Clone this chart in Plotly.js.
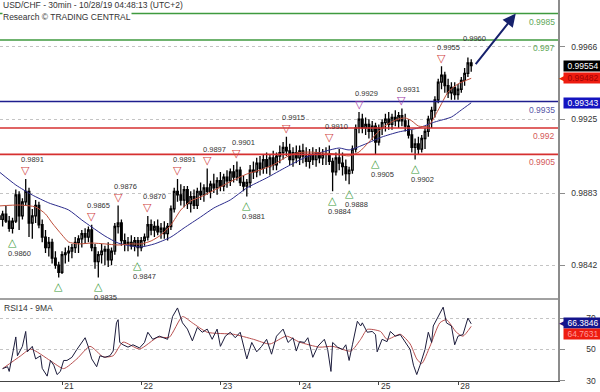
<!DOCTYPE html>
<html><head><meta charset="utf-8">
<script src="https://cdn.plot.ly/plotly-3.0.1.min.js"></script>
<style>html,body{margin:0;padding:0;background:#fff}#chart{width:600px;height:392px}</style>
</head><body><div id="chart"></div>
<script>
// ---------- text ----------
const chartTitle = 'USD/CHF - 30min - 10/28/19 04:48:13 (UTC+2)';
const chartSource = 'Research © TRADING CENTRAL';
const rsiTitle = 'RSI14 - 9MA';

// ---------- time axis (trading hours from Mon Oct 21 00:00, weekend removed) ----------
const dayTickHours = [0, 24, 48, 72, 96, 120];
const dayTickLabels = ['21', '22', '23', '24', '25', '28'];
const firstBarHour = -19;

// ---------- hourly OHLC ----------
const openP = [
 0.9870,0.9868,0.9871,0.9867,0.9863,0.9867,0.9882,0.9870,0.9878,0.9884,0.9866,0.9870,
 0.9876,0.9865,0.9858,0.9852,0.9855,0.9846,0.9842,0.9838,0.9848,0.9849,0.9850,0.9852,
 0.9855,0.9857,0.9860,0.9858,0.9862,0.9852,0.9844,0.9848,0.9850,0.9851,0.9845,0.9850,
 0.9864,0.9866,0.9856,0.9854,0.9855,0.9853,0.9856,0.9852,0.9856,0.9858,0.9865,0.9862,
 0.9864,0.9861,0.9863,0.9860,0.9864,0.9874,0.9884,0.9882,0.9879,0.9885,0.9877,0.9881,
 0.9876,0.9884,0.9882,0.9886,0.9884,0.9888,0.9886,0.9890,0.9887,0.9892,0.9890,0.9895,
 0.9892,0.9896,0.9889,0.9887,0.9889,0.9896,0.9895,0.9900,0.9897,0.9902,0.9898,0.9903,
 0.9899,0.9904,0.9906,0.9909,0.9907,0.9902,0.9906,0.9903,0.9907,0.9904,0.9901,0.9905,
 0.9902,0.9906,0.9903,0.9905,0.9905,0.9901,0.9895,0.9903,0.9900,0.9898,0.9894,0.9896,
 0.9908,0.9920,0.9925,0.9920,0.9922,0.9918,0.9921,0.9912,0.9920,0.9923,0.9925,0.9922,
 0.9926,0.9924,0.9927,0.9924,0.9921,0.9916,0.9909,0.9911,0.9908,0.9914,0.9918,0.9925,
 0.9930,0.9936,0.9946,0.9950,0.9944,0.9940,0.9943,0.9939,0.9942,0.9947,0.9951,0.9957];
const highP = [
 0.9874,0.9873,0.9876,0.9870,0.9869,0.9885,0.9884,0.9880,0.9891,0.9886,0.9874,0.9879,
 0.9878,0.9868,0.9862,0.9858,0.9857,0.9850,0.9844,0.9850,0.9852,0.9853,0.9854,0.9858,
 0.9859,0.9862,0.9863,0.9864,0.9865,0.9854,0.9850,0.9854,0.9853,0.9855,0.9852,0.9866,
 0.9876,0.9868,0.9860,0.9858,0.9859,0.9858,0.9858,0.9858,0.9860,0.9870,0.9868,0.9867,
 0.9868,0.9866,0.9867,0.9866,0.9876,0.9886,0.9891,0.9888,0.9887,0.9887,0.9884,0.9885,
 0.9886,0.9889,0.9888,0.9897,0.9890,0.9894,0.9892,0.9895,0.9894,0.9896,0.9897,0.9899,
 0.9901,0.9898,0.9893,0.9891,0.9899,0.9901,0.9903,0.9904,0.9905,0.9906,0.9905,0.9907,
 0.9906,0.9910,0.9912,0.9915,0.9911,0.9909,0.9910,0.9910,0.9911,0.9909,0.9908,0.9909,
 0.9908,0.9909,0.9908,0.9909,0.9910,0.9903,0.9906,0.9908,0.9906,0.9902,0.9898,0.9910,
 0.9922,0.9929,0.9928,0.9926,0.9925,0.9924,0.9923,0.9922,0.9925,0.9928,0.9929,0.9928,
 0.9930,0.9929,0.9931,0.9928,0.9925,0.9919,0.9914,0.9915,0.9916,0.9920,0.9927,0.9932,
 0.9938,0.9948,0.9955,0.9952,0.9948,0.9946,0.9946,0.9945,0.9949,0.9954,0.9960,0.9959];
const lowP = [
 0.9865,0.9864,0.9866,0.9861,0.9860,0.9866,0.9862,0.9868,0.9876,0.9858,0.9857,0.9866,
 0.9863,0.9855,0.9849,0.9847,0.9843,0.9840,0.9835,0.9837,0.9843,0.9844,0.9846,0.9849,
 0.9849,0.9852,0.9854,0.9855,0.9850,0.9840,0.9835,0.9843,0.9842,0.9841,0.9842,0.9848,
 0.9860,0.9853,0.9850,0.9850,0.9851,0.9850,0.9847,0.9850,0.9853,0.9856,0.9859,0.9858,
 0.9859,0.9857,0.9857,0.9856,0.9862,0.9872,0.9878,0.9876,0.9875,0.9874,0.9872,0.9874,
 0.9874,0.9879,0.9878,0.9882,0.9880,0.9883,0.9882,0.9884,0.9884,0.9886,0.9887,0.9889,
 0.9890,0.9887,0.9884,0.9881,0.9886,0.9891,0.9892,0.9893,0.9894,0.9894,0.9893,0.9896,
 0.9896,0.9900,0.9902,0.9904,0.9899,0.9898,0.9900,0.9899,0.9900,0.9898,0.9897,0.9899,
 0.9898,0.9900,0.9899,0.9899,0.9899,0.9884,0.9893,0.9896,0.9893,0.9890,0.9888,0.9894,
 0.9906,0.9917,0.9917,0.9916,0.9914,0.9913,0.9905,0.9910,0.9916,0.9918,0.9919,0.9919,
 0.9921,0.9920,0.9921,0.9918,0.9914,0.9906,0.9902,0.9905,0.9906,0.9908,0.9915,0.9920,
 0.9926,0.9934,0.9942,0.9940,0.9937,0.9936,0.9936,0.9936,0.9940,0.9944,0.9949,0.9952];
const closeP = [
 0.9868,0.9871,0.9867,0.9863,0.9867,0.9882,0.9870,0.9878,0.9884,0.9866,0.9870,0.9876,
 0.9865,0.9858,0.9852,0.9855,0.9846,0.9842,0.9838,0.9848,0.9849,0.9850,0.9852,0.9855,
 0.9857,0.9860,0.9858,0.9862,0.9852,0.9844,0.9848,0.9850,0.9851,0.9845,0.9850,0.9864,
 0.9866,0.9856,0.9854,0.9855,0.9853,0.9856,0.9852,0.9856,0.9858,0.9865,0.9862,0.9864,
 0.9861,0.9863,0.9860,0.9864,0.9874,0.9884,0.9882,0.9879,0.9885,0.9877,0.9881,0.9876,
 0.9884,0.9882,0.9886,0.9884,0.9888,0.9886,0.9890,0.9887,0.9892,0.9890,0.9895,0.9892,
 0.9896,0.9889,0.9887,0.9889,0.9896,0.9895,0.9900,0.9897,0.9902,0.9898,0.9903,0.9899,
 0.9904,0.9906,0.9909,0.9907,0.9902,0.9906,0.9903,0.9907,0.9904,0.9901,0.9905,0.9902,
 0.9906,0.9903,0.9905,0.9905,0.9901,0.9895,0.9903,0.9900,0.9898,0.9894,0.9896,0.9908,
 0.9920,0.9925,0.9920,0.9922,0.9918,0.9921,0.9912,0.9920,0.9923,0.9925,0.9922,0.9926,
 0.9924,0.9927,0.9924,0.9921,0.9916,0.9909,0.9911,0.9908,0.9914,0.9918,0.9925,0.9930,
 0.9936,0.9946,0.9950,0.9944,0.9940,0.9943,0.9939,0.9942,0.9947,0.9951,0.9957,0.99554];

// ---------- moving averages ----------
const fastMAHours = [-19,-13,-8,-5,-3,0,2,5,9,13,17,21,24,27,30,33,36,39,42,45,48,52,56,60,64,68,71,75,79,83,87,90,93,97,101,104,106,108,111,114,117,120,124];
const fastMA = [0.98757,0.98762,0.98751,0.98711,0.98660,0.98592,0.98552,0.98541,0.98546,0.98541,0.98535,0.98541,0.98541,0.98558,0.98592,0.98649,0.98734,0.98785,0.98808,0.98836,0.98865,0.98904,0.98938,0.98961,0.98990,0.99035,0.99058,0.99063,0.99058,0.99052,0.99041,0.99063,0.99120,0.99200,0.99245,0.99257,0.99240,0.99211,0.99211,0.99302,0.99404,0.99450,0.99482];
const slowMAHours = [-19,-14,-9,-4,2,6,9,13,17,21,24,28,33,37,42,46,51,56,62,68,74,80,84,87,92,97,102,108,113,118,121,124];
const slowMA = [0.98950,0.98876,0.98819,0.98774,0.98734,0.98677,0.98637,0.98586,0.98546,0.98529,0.98524,0.98541,0.98580,0.98632,0.98694,0.98745,0.98791,0.98859,0.98916,0.98978,0.99035,0.99069,0.99086,0.99075,0.99109,0.99149,0.99177,0.99200,0.99234,0.99262,0.99302,0.99343];

// ---------- RSI14 and its 9MA ----------
const rsiHours = [-18,-16.5,-16,-14,-13.5,-12,-11,-10.5,-9,-8,-6.5,-6,-4.5,-3.5,-2.5,-1.5,-0.5,0.5,1.5,3,4.5,6,7,8,9,10.5,11.5,13,14.5,15.5,16.5,17,17.5,18.5,20,21.5,23.5,25,26,27.5,29.5,32,32.5,33.5,35,36,36.5,38,39.5,41,42.5,44,45.5,47,48,49.5,51,52.5,54,56,57.5,59,60.5,62,63.5,65,67,68.5,70,71,72,73.5,74.5,76,77.5,79.5,80.5,81.5,82,83.5,85,86,87,88,89.5,90.5,91,92.5,94,95,95.5,97,98.5,99.5,101,102.5,104,105.5,106.5,107.5,108.5,110,111,112,112.5,113.5,114.5,115.5,116.5,118,119,120,121.5,123,124];
const rsiValues = [37.8,39,36,58,46,52,61.5,48.5,52,44,46,38,33,43,40,34,36,43,43,45,50,54.5,57.5,51.5,44,39,46,45,46,49,67,69,54.5,53,51.5,53,51,54.5,61,56.5,58.5,56.5,61.5,71,76.5,71,67,63,55.5,64,61,63,56.5,63,52,58.5,61,57.5,61,44,54.5,48.5,52,56.5,47,58.5,63,54.5,57.5,49,55,54.5,57.5,45,52,56.5,50,36,54.5,51.5,50,53,43,53,68,65,67,61,61.5,59.5,48.5,56.5,55,61.5,58.5,59.5,55,50,40,34,40,50,61,54.5,65,69,73,77,67,65,53,58.5,59.5,70,66.3846];
const rsiMAHours = [-18,-12.5,-9.5,-3.5,0.5,4.5,8.5,12.5,15.5,18.5,23.5,29,32.5,36.5,39.5,44,52,58,63,68,72,78,82,87.5,90.5,92.5,96.5,98.5,102.5,105.5,107.5,109,111.5,114.5,116.5,119.5,121.5,124];
const rsiMA = [37.8,46,50.3,42.8,37.8,44,52,45.3,46,54.7,50.3,57.8,57.8,71,67,61,59.7,56.5,53.5,58.5,54.7,51.5,52,49,56.5,62.8,61.5,56.5,59.7,53.5,44,41,52,67,69,61,58.5,64.7631];

// ---------- levels, pivots, axis ticks ----------
const levelPrices = [0.9985, 0.997, 0.9935, 0.992, 0.9905];
const levelLabels = ['0.9985', '0.997', '0.9935', '0.992', '0.9905'];
const levelKinds = ['res', 'res', 'pivot', 'sup', 'sup'];
const pivotHours = [-15,-11,-1,9,11,17,23,26,35,44,53,56,68,81,82,87,90,95,103,107,115,123];
const pivotPrices = [0.9860,0.9891,0.9835,0.9865,0.9835,0.9876,0.9847,0.9870,0.9891,0.9897,0.9901,0.9881,0.9915,0.9910,0.9884,0.9888,0.9929,0.9905,0.9931,0.9902,0.9955,0.9960];
const pivotKinds = ['L','H','Lm','H','L','H','L','H','H','H','H','L','H','H','L','L','P','L','P','L','H','T'];
const priceTicks = [0.9842, 0.9883, 0.9925, 0.9966];
const rsiTicks = [30, 50, 70];
const forecastHours = [125, 137.5];   // arrow from last close to the 0.9985 target

// ---------- build ----------
const FONT = 'Liberation Sans, Arial, sans-serif';
const barHours = openP.map((_, i) => firstBarHour + i);
const lastClose = closeP[closeP.length - 1];

const traces = [
  { type: 'candlestick', x: barHours, open: openP, high: highP, low: lowP, close: closeP,
    xaxis: 'x', yaxis: 'y', whiskerwidth: 0, hoverinfo: 'skip',
    increasing: { line: { color: '#000', width: 1.3 }, fillcolor: '#ffffff' },
    decreasing: { line: { color: '#000', width: 1.3 }, fillcolor: '#000000' } },
  { type: 'scatter', mode: 'lines', x: slowMAHours, y: slowMA, xaxis: 'x', yaxis: 'y',
    line: { color: '#2b2b8c', width: 1, shape: 'spline', smoothing: 0.6 }, hoverinfo: 'skip' },
  { type: 'scatter', mode: 'lines', x: fastMAHours, y: fastMA, xaxis: 'x', yaxis: 'y',
    line: { color: '#c0503c', width: 1, shape: 'spline', smoothing: 0.6 }, hoverinfo: 'skip' },
  { type: 'scatter', mode: 'lines', x: rsiMAHours, y: rsiMA, xaxis: 'x', yaxis: 'y2',
    line: { color: '#b85050', width: 1, shape: 'spline', smoothing: 0.6 }, hoverinfo: 'skip' },
  { type: 'scatter', mode: 'lines', x: rsiHours, y: rsiValues, xaxis: 'x', yaxis: 'y2',
    line: { color: '#1c1c3c', width: 1 }, hoverinfo: 'skip' }
];

const levelLine = { res: '#3f9a3f', pivot: '#1e1e8e', sup: '#d63030' };
const levelText = { res: '#62a85a', pivot: '#5656a6', sup: '#d45a5a' };

const shapes = levelPrices.map((p, i) => ({
  type: 'line', xref: 'paper', x0: 0, x1: 1, yref: 'y', y0: p, y1: p,
  line: { color: levelLine[levelKinds[i]], width: 1.6 }, layer: 'above'
}));
shapes.push({ type: 'line', xref: 'paper', x0: 0, x1: 1, yref: 'paper', y0: 0.2152, y1: 0.2152,
  line: { color: '#444', width: 1 } });

const annotations = [];
levelPrices.forEach((p, i) => annotations.push({
  xref: 'paper', x: 1, xanchor: 'right', xshift: -1, yref: 'y', y: p, yanchor: 'top', yshift: -1,
  text: levelLabels[i], showarrow: false, font: { family: FONT, size: 8.5, color: levelText[levelKinds[i]] }
}));

const triColor = { H: '#d04444', L: '#3a9a3a', Lm: '#3a9a3a', P: '#a03aa8' };
pivotHours.forEach((h, i) => {
  const k = pivotKinds[i], p = pivotPrices[i];
  const isLow = (k === 'L' || k === 'Lm');
  if (k !== 'T') annotations.push({
    xref: 'x', x: h, yref: 'y', y: p, yanchor: 'middle', yshift: isLow ? -9 : 8,
    text: isLow ? '△' : '▽', showarrow: false,
    font: { family: 'DejaVu Sans', size: 11, color: triColor[k] }
  });
  if (k !== 'Lm') annotations.push({
    xref: 'x', x: h, xshift: 7, yref: 'y', y: p, yanchor: 'middle', yshift: isLow ? -20 : 19,
    text: p.toFixed(4), showarrow: false, font: { family: FONT, size: 7.5, color: '#333' }
  });
});

// forecast arrow
annotations.push({ xref: 'x', yref: 'y', x: forecastHours[1], y: levelPrices[0],
  axref: 'x', ayref: 'y', ax: forecastHours[0], ay: lastClose, text: '', showarrow: true,
  arrowhead: 2, arrowsize: 1.3, arrowwidth: 2, arrowcolor: '#16216c', standoff: 0 });

// source line (white background hides the level line behind it)
annotations.push({ xref: 'paper', x: 0, xanchor: 'left', xshift: 2, yref: 'paper', y: 1, yanchor: 'top',
  yshift: -11, text: chartSource, showarrow: false, bgcolor: '#ffffff', borderpad: 0,
  font: { family: FONT, size: 8.5, color: '#333' } });
annotations.push({ xref: 'paper', x: 0, xanchor: 'left', xshift: 2, yref: 'paper', y: 0.2152, yanchor: 'top',
  yshift: -2, text: rsiTitle, showarrow: false, font: { family: FONT, size: 8.5, color: '#333' } });

// value boxes on the right
function valueBox(yref, y, text, bg, fg, yshift, tip) {
  if (tip) annotations.push({ xref: 'paper', x: 1, xanchor: 'left', xshift: -1, yref, y, yanchor: 'middle',
    yshift: yshift, text: '◀', showarrow: false, font: { family: 'DejaVu Sans', size: 9, color: bg } });
  annotations.push({ xref: 'paper', x: 1, xanchor: 'left', xshift: 5, yref, y, yanchor: 'middle', yshift: yshift,
    text, showarrow: false, bgcolor: bg, borderpad: 0, width: 38, height: 10,
    font: { family: FONT, size: 8.5, color: fg } });
}
valueBox('y', lastClose, lastClose.toFixed(5), '#000000', '#ffffff', 0, false);
valueBox('y', fastMA[fastMA.length - 1], fastMA[fastMA.length - 1].toFixed(5), '#ee1c10', '#a00000', 0, true);
valueBox('y', slowMA[slowMA.length - 1], slowMA[slowMA.length - 1].toFixed(5), '#1414c0', '#ffffff', 0, false);
valueBox('y2', rsiValues[rsiValues.length - 1], rsiValues[rsiValues.length - 1].toFixed(4), '#14148c', '#ffffff', 1, true);
valueBox('y2', rsiMA[rsiMA.length - 1], rsiMA[rsiMA.length - 1].toFixed(4), '#ee1c10', '#ff9a9a', -8, false);

const layout = {
  width: 600, height: 392, showlegend: false,
  margin: { l: 0, r: 42, t: 0, b: 11 },
  paper_bgcolor: '#fff', plot_bgcolor: '#fff',
  font: { family: FONT, size: 8.5, color: '#333' },
  title: { text: chartTitle, x: 0.005, xref: 'container', xanchor: 'left', y: 0.994, yref: 'container',
    yanchor: 'top', pad: { t: 0, l: 0, r: 0, b: 0 }, font: { family: FONT, size: 8.5, color: '#333' } },
  xaxis: { range: [-18.79, 150.3], anchor: 'y2', tickvals: dayTickHours, ticktext: dayTickLabels,
    ticks: 'outside', ticklen: 3, tickcolor: '#444', showline: true, linecolor: '#444', linewidth: 1,
    showgrid: false, zeroline: false, ticklabelshift: 7, ticklabelstandoff: -6,
    tickfont: { family: FONT, size: 8.5, color: '#333' }, rangeslider: { visible: false }, fixedrange: true },
  yaxis: { domain: [0.2152, 1], range: [0.98228, 0.99927], side: 'right', anchor: 'x',
    tickvals: priceTicks, ticktext: priceTicks.map(v => v.toFixed(4)),
    showgrid: true, griddash: 'dot', gridcolor: '#c4c4c4', gridwidth: 1,
    showline: true, linecolor: '#8c8c8c', linewidth: 1.5, ticks: 'outside', ticklen: 5, tickcolor: '#8c8c8c',
    ticklabelstandoff: 5, zeroline: false, tickfont: { family: FONT, size: 8.5, color: '#333' } },
  yaxis2: { domain: [0, 0.2152], range: [29.9, 82.2], side: 'right', anchor: 'x',
    tickvals: rsiTicks, ticktext: rsiTicks.map(String),
    showgrid: true, griddash: 'dot', gridcolor: '#c4c4c4', gridwidth: 1,
    showline: true, linecolor: '#8c8c8c', linewidth: 1.5, ticks: 'outside', ticklen: 5, tickcolor: '#8c8c8c',
    ticklabelstandoff: 20, zeroline: false, tickfont: { family: FONT, size: 8.5, color: '#333' } },
  shapes, annotations
};

Plotly.newPlot('chart', traces, layout, { displayModeBar: false, staticPlot: true });
</script></body></html>
